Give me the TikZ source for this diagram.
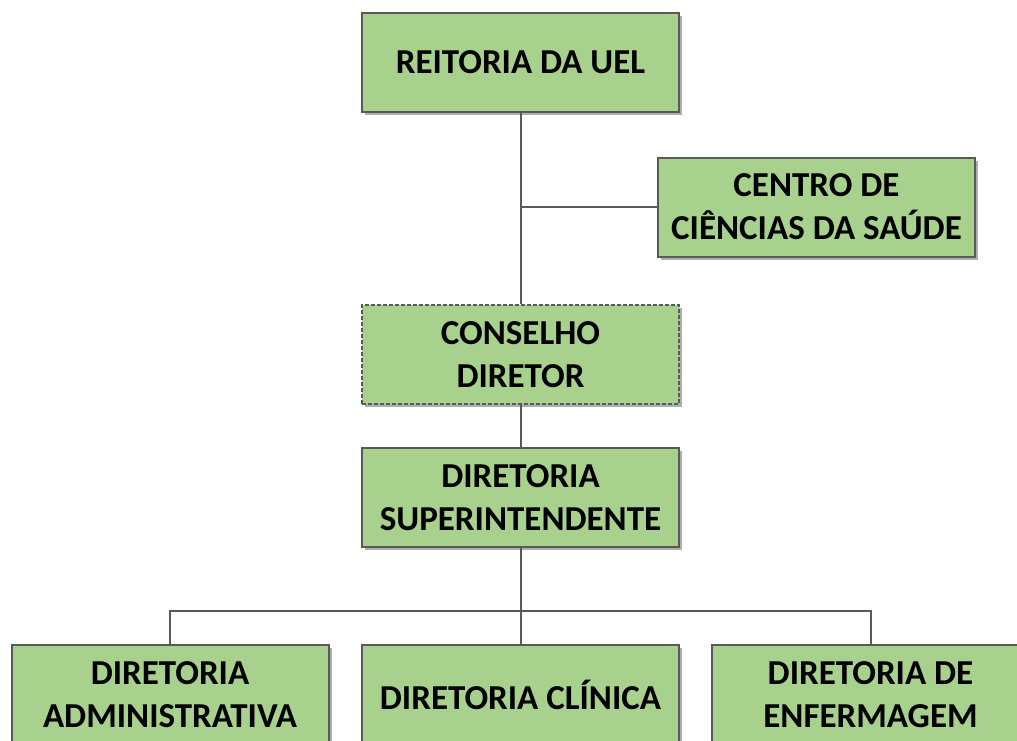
\documentclass[tikz,border=0pt]{standalone}
\usepackage{fontspec}
\setmainfont{Carlito}
\usetikzlibrary{shadows}
\definecolor{boxfill}{HTML}{A9D18E}
\definecolor{edgegray}{HTML}{595959}
\begin{document}
\begin{tikzpicture}[x=0.5pt,y=-0.5pt,
  orgbox/.style={draw=edgegray, line width=1pt, fill=boxfill,
    minimum width=158.5pt, minimum height=49.5pt, inner sep=0pt,
    align=center, text=black,
    font=\fontsize{17.5}{21.5}\selectfont\bfseries,
    drop shadow={shadow xshift=1.6pt, shadow yshift=-1.6pt, opacity=0.45, fill=black!70}},
  dashbox/.style={orgbox, dash pattern=on 2pt off 1pt},
  conn/.style={draw=edgegray, line width=1pt}]
\useasboundingbox (0,0) rectangle (1017,740);
\node[orgbox] (reit) at (520.5,62.5) {REITORIA DA UEL};
\node[orgbox] (ccs) at (816.5,207) {CENTRO DE\\CIÊNCIAS DA SAÚDE};
\node[dashbox] (cons) at (520.5,354.5) {CONSELHO\\DIRETOR};
\node[orgbox] (sup) at (520.5,497.5) {DIRETORIA\\SUPERINTENDENTE};
\node[orgbox] (adm) at (170,694.5) {DIRETORIA\\ADMINISTRATIVA};
\node[orgbox] (cli) at (520.5,694.5) {DIRETORIA CLÍNICA};
\node[orgbox] (enf) at (870.5,694.5) {DIRETORIA DE\\ENFERMAGEM};
\coordinate (bar) at (520.5,611);
\draw[conn] (reit.south) -- (cons.north);
\draw[conn] (ccs.west) -- (ccs.west -| reit.south);
\draw[conn] (cons.south) -- (sup.north);
\draw[conn] (sup.south) -- (bar);
\draw[conn] (adm.north) |- (bar) -| (enf.north);
\draw[conn] (bar) -- (cli.north);
\end{tikzpicture}
\end{document}
